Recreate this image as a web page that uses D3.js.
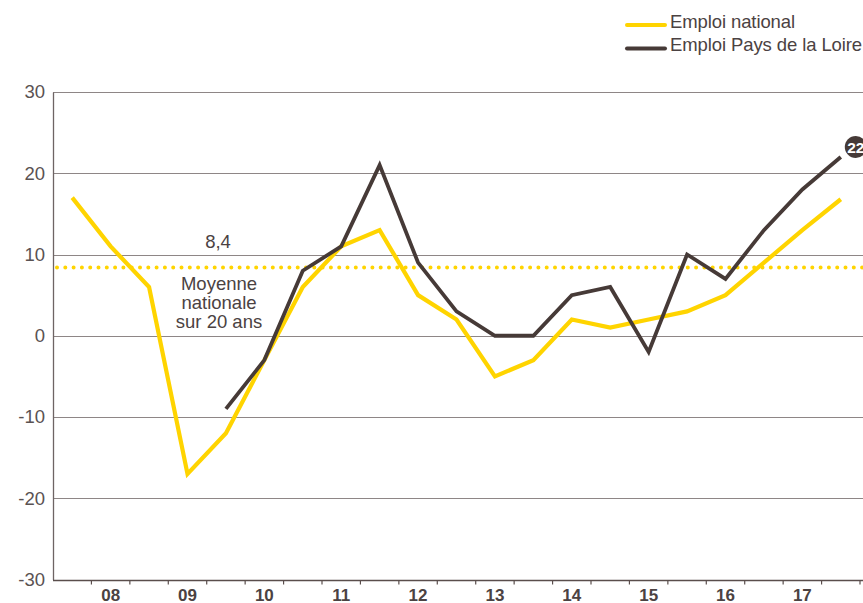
<!DOCTYPE html>
<html>
<head>
<meta charset="utf-8">
<script src="https://cdn.jsdelivr.net/npm/d3@7"></script>
<style>
  body { margin: 0; background: #fff; }
  svg { display: block; font-family: "Liberation Sans", Arial, Helvetica, sans-serif; }
</style>
</head>
<body>
<div id="chart"></div>
<script>
// Données : variation de l'emploi par semestre
const periodes = d3.range(21);
const etiquettesAnnees = ['', '08', '', '09', '', '10', '', '11', '', '12', '', '13', '', '14', '', '15', '', '16', '', '17', ''];
const emploiNational = [17, 11, 6, -17, -12, -3, 6, 11, 13, 5, 2, -5, -3, 2, 1, 2, 3, 5, 9, 13, 16.8];
const emploiPdl = [null, null, null, null, -9, -3, 8, 11, 21, 9, 3, 0, 0, 5, 6, -2, 10, 7, 13, 18, 22];
const moyenneNationale = 8.4;
const graduationsY = [-30, -20, -10, 0, 10, 20, 30];

const W = 863, H = 603;
const margin = { top: 92, right: 3, bottom: 23, left: 53 };

const JAUNE = '#ffd400';
const BRUN = '#463a37';
const TEXTE = '#4b4242';
const GRILLE = '#8e8686';

const svg = d3.select('#chart').append('svg')
    .attr('width', W)
    .attr('height', H);

// Echelles
const x = d3.scaleBand()
    .domain(periodes)
    .range([margin.left, 860]);

const y = d3.scaleLinear()
    .domain([-30, 30])
    .range([H - margin.bottom - 0.5, margin.top]);

const cx = i => x(i) + x.bandwidth() / 2;

// Grille horizontale
svg.append('g')
    .selectAll('line')
    .data(graduationsY.filter(v => v > -30))
    .enter().append('line')
    .attr('x1', margin.left)
    .attr('x2', W)
    .attr('y1', d => Math.round(y(d)) + 0.5)
    .attr('y2', d => Math.round(y(d)) + 0.5)
    .attr('stroke', GRILLE)
    .attr('stroke-width', 1);

// Axe Y (tiret simple pour les négatifs)
const axeY = svg.append('g')
    .attr('transform', `translate(${margin.left},0)`)
    .call(d3.axisLeft(y).tickValues(graduationsY).tickSize(0).tickPadding(8)
        .tickFormat(d => String(d)));
axeY.select('.domain').attr('stroke', '#6e6464').attr('stroke-width', 1.3);
axeY.selectAll('text')
    .attr('font-size', '18.5px')
    .attr('fill', '#5a5252')
    .attr('font-family', '"Liberation Sans", Arial, sans-serif');

// Axe X : traits aux limites des semestres, années au centre
const yBas = Math.round(y(-30)) + 0.5;
svg.append('line')
    .attr('x1', margin.left)
    .attr('x2', W)
    .attr('y1', yBas)
    .attr('y2', yBas)
    .attr('stroke', '#5a4e4c')
    .attr('stroke-width', 1.3);

svg.append('g')
    .selectAll('line')
    .data(periodes.slice(1).concat([21]))
    .enter().append('line')
    .attr('x1', d => (d < 21 ? x(d) : x(20) + x.bandwidth()))
    .attr('x2', d => (d < 21 ? x(d) : x(20) + x.bandwidth()))
    .attr('y1', yBas)
    .attr('y2', yBas + 4)
    .attr('stroke', '#5a4e4c')
    .attr('stroke-width', 1.2);

svg.append('g')
    .selectAll('text')
    .data(periodes.filter(i => etiquettesAnnees[i]))
    .enter().append('text')
    .attr('x', d => cx(d))
    .attr('y', H - 2.5)
    .attr('text-anchor', 'middle')
    .attr('font-size', '17px')
    .attr('font-weight', 'bold')
    .attr('fill', TEXTE)
    .text(d => etiquettesAnnees[d]);

// Moyenne nationale sur 20 ans (pointillés)
svg.append('line')
    .attr('x1', margin.left + 4)
    .attr('x2', W)
    .attr('y1', y(moyenneNationale))
    .attr('y2', y(moyenneNationale))
    .attr('stroke', JAUNE)
    .attr('stroke-width', 4)
    .attr('stroke-linecap', 'round')
    .attr('stroke-dasharray', '0 8.3');

svg.append('text')
    .attr('x', 218)
    .attr('y', 248)
    .attr('text-anchor', 'middle')
    .attr('font-size', '18.5px')
    .attr('fill', TEXTE)
    .text('8,4');

svg.append('text')
    .attr('text-anchor', 'middle')
    .attr('font-size', '18.5px')
    .attr('fill', TEXTE)
    .selectAll('tspan')
    .data(['Moyenne', 'nationale', 'sur 20 ans'])
    .enter().append('tspan')
    .attr('x', 219)
    .attr('y', (d, i) => 290 + i * 19)
    .text(d => d);

// Courbes
const ligne = d3.line()
    .defined(d => d.v !== null)
    .x(d => cx(d.i))
    .y(d => y(d.v));

svg.append('path')
    .datum(emploiNational.map((v, i) => ({ i, v })))
    .attr('fill', 'none')
    .attr('stroke', JAUNE)
    .attr('stroke-width', 4.2)
    .attr('stroke-linejoin', 'miter')
    .attr('d', ligne);

svg.append('path')
    .datum(emploiPdl.map((v, i) => ({ i, v })))
    .attr('fill', 'none')
    .attr('stroke', BRUN)
    .attr('stroke-width', 3.8)
    .attr('stroke-linejoin', 'miter')
    .attr('d', ligne);

// Bulle de la dernière valeur
const dernier = emploiPdl[emploiPdl.length - 1];
const bulle = svg.append('g')
    .attr('transform', `translate(${cx(20) + 15},${y(dernier) - 10})`);
bulle.append('circle')
    .attr('r', 11)
    .attr('fill', BRUN);
bulle.append('text')
    .attr('y', 5.5)
    .attr('text-anchor', 'middle')
    .attr('font-size', '15.5px')
    .attr('font-weight', 'bold')
    .attr('fill', '#fff')
    .text(dernier);

// Légende
const legende = [
    { nom: 'Emploi national', couleur: JAUNE },
    { nom: 'Emploi Pays de la Loire', couleur: BRUN }
];
const leg = svg.append('g')
    .selectAll('g')
    .data(legende)
    .enter().append('g')
    .attr('transform', (d, i) => `translate(627,${25 + i * 23.5})`);
leg.append('line')
    .attr('x1', 0)
    .attr('x2', 38)
    .attr('stroke', d => d.couleur)
    .attr('stroke-width', 4)
    .attr('stroke-linecap', 'round');
leg.append('text')
    .attr('x', 43)
    .attr('y', 2.5)
    .attr('font-size', '18.5px')
    .attr('fill', TEXTE)
    .attr('letter-spacing', '-0.1px')
    .text(d => d.nom);
</script>
</body>
</html>
